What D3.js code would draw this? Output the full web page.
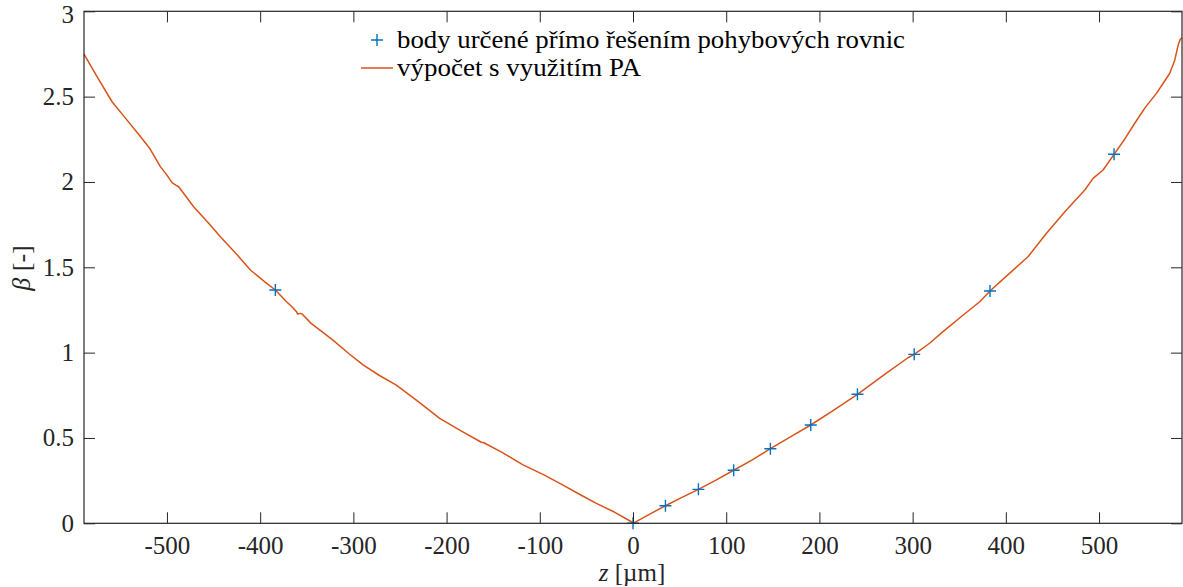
<!DOCTYPE html>
<html>
<head>
<meta charset="utf-8">
<script src="https://cdn.jsdelivr.net/npm/d3@7"></script>
<style>
html,body{margin:0;padding:0;background:#fff;}
svg{display:block;}
</style>
</head>
<body>
<svg id="chart" width="1183" height="587"></svg>
<script>
// Data
const xTicks = [-500,-400,-300,-200,-100,0,100,200,300,400,500];
const yTicks = [0,0.5,1,1.5,2,2.5,3];
const yTickLabels = ["0","0.5","1","1.5","2","2.5","3"];

// blue "+" points: directly solved equations of motion
const pointsZ    = [-383.7, 0, 34.8, 70.2, 108.0, 147.4, 190.7, 240.8, 301.7, 383.0, 516.1];
const pointsBeta = [1.367, 0.0, 0.103, 0.199, 0.311, 0.437, 0.576, 0.756, 0.990, 1.361, 2.162];

// orange curve: computation using PA
const curveZ = [-589, -575, -558.9, -545, -530, -518, -507.1, -500, -494.6, -490, -487.4, -480, -471.4,
  -455, -442.7, -425, -410.5, -395, -383.7, -372, -365.9, -361, -359.8, -357, -355.0, -345, -322.9,
  -305, -289.6, -272, -253.9, -230, -207.4, -185, -162.7, -160, -140, -118.0, -95, -75.1, -55, -39.3, -20, -1.7, 0,
  17, 34.8, 52, 70.2, 89, 108.0, 128, 147.4, 168, 190.7, 215, 240.8, 270, 295, 301.7, 318.2, 332.6, 352, 372, 383.0,
  403, 423.8, 443.6, 465, 484.7, 493.6, 504.3, 516.1, 528, 538.3, 550, 561.6, 569, 575.9, 581.3, 584.9, 587, 589];
const curveBeta = [2.749, 2.617, 2.470, 2.377, 2.277, 2.193, 2.090, 2.040, 1.996, 1.980, 1.972, 1.918, 1.855,
  1.757, 1.679, 1.575, 1.484, 1.415, 1.367, 1.300, 1.269, 1.240, 1.226, 1.230, 1.226, 1.170, 1.078,
  0.995, 0.928, 0.866, 0.810, 0.712, 0.615, 0.543, 0.475, 0.472, 0.414, 0.342, 0.282, 0.224, 0.163, 0.117, 0.066, 0.009, 0.0,
  0.051, 0.103, 0.150, 0.199, 0.253, 0.311, 0.372, 0.437, 0.503, 0.576, 0.662, 0.756, 0.872, 0.970, 0.990, 1.055, 1.123, 1.210, 1.298, 1.361,
  1.460, 1.562, 1.699, 1.836, 1.953, 2.021, 2.070, 2.162, 2.255, 2.344, 2.440, 2.519, 2.580, 2.637, 2.715, 2.803, 2.835, 2.845];

const legendLabels = ["body určené přímo řešením pohybových rovnic", "výpočet s využitím PA"];

// Layout
const L = 84, R = 1182, T = 11.3, B = 523.3;
const axisColor = "#262626";
const FONT = "Liberation Serif";
const svg = d3.select("#chart");

const x = d3.scaleLinear().domain([-589, 589]).range([L, R]);
const y = d3.scaleLinear().domain([0, 3]).range([B, T]);

// Curve
const line = d3.line().x(d => x(d[0])).y(d => y(d[1]));
const curveData = curveZ.map((z, i) => [z, curveBeta[i]]);
svg.append("path")
  .datum(curveData)
  .attr("d", line)
  .attr("fill", "none")
  .attr("stroke", "#D95319")
  .attr("stroke-width", 1.5)
  .attr("stroke-linejoin", "round");

// Points (+)
const ms = 6;
const pts = svg.append("g");
pointsZ.forEach((z, i) => {
  const cx = x(z), cy = y(pointsBeta[i]);
  pts.append("path")
    .attr("d", `M${cx - ms},${cy}H${cx + ms}M${cx},${cy - ms}V${cy + ms}`)
    .attr("stroke", "#0072BD")
    .attr("stroke-width", 1.4)
    .attr("fill", "none");
});

// Axes
const fmt = d => String(d);
const gx = svg.append("g").attr("transform", `translate(0,${B})`)
  .call(d3.axisBottom(x).tickValues(xTicks).tickFormat(fmt).tickSizeInner(-11).tickSizeOuter(0).tickPadding(13));
const gxt = svg.append("g").attr("transform", `translate(0,${T})`)
  .call(d3.axisTop(x).tickValues(xTicks).tickFormat("").tickSizeInner(-11).tickSizeOuter(0));
const gy = svg.append("g").attr("transform", `translate(${L},0)`)
  .call(d3.axisLeft(y).tickValues(yTicks).tickFormat((d, i) => yTickLabels[i]).tickSizeInner(-11).tickSizeOuter(0).tickPadding(10));
const gyr = svg.append("g").attr("transform", `translate(${R},0)`)
  .call(d3.axisRight(y).tickValues(yTicks).tickFormat("").tickSizeInner(-11).tickSizeOuter(0));

[gx, gxt, gy, gyr].forEach(g => {
  g.attr("font-family", FONT).attr("font-size", 25);
  g.select(".domain").remove();
  g.selectAll(".tick line").attr("stroke", axisColor).attr("stroke-width", 1);
  g.selectAll(".tick text").attr("fill", axisColor).attr("font-family", FONT).attr("font-size", 25);
});
// keep top "3" label inside the window
gy.selectAll(".tick text").filter(d => d === 3).attr("dy", "0.45em");

svg.append("rect")
  .attr("x", L).attr("y", T).attr("width", R - L).attr("height", B - T)
  .attr("fill", "none").attr("stroke", axisColor).attr("stroke-width", 1.2);

// Axis labels
const xl = svg.append("text").attr("x", 632).attr("y", 581).attr("text-anchor", "middle")
  .attr("font-family", FONT).attr("font-size", 25).attr("fill", axisColor);
xl.append("tspan").attr("font-style", "italic").text("z");
xl.append("tspan").text(" [µm]");

svg.append("text")
  .attr("transform", "translate(30,268) rotate(-90)")
  .attr("text-anchor", "middle").attr("font-family", FONT).attr("font-size", 26).attr("fill", axisColor)
  .call(t => { t.append("tspan").attr("font-style", "italic").text("β"); t.append("tspan").text(" [-]"); });

// Legend
const lg = svg.append("g");
lg.append("path").attr("d", "M371,40H383M377,34V46").attr("stroke", "#0072BD").attr("stroke-width", 1.4);
lg.append("line").attr("x1", 361).attr("x2", 393).attr("y1", 68).attr("y2", 68).attr("stroke", "#D95319").attr("stroke-width", 1.5);
lg.append("text").attr("x", 397).attr("y", 48).attr("font-family", FONT).attr("font-size", 26).attr("fill", "#000")
  .attr("textLength", 508).attr("lengthAdjust", "spacingAndGlyphs").text(legendLabels[0]);
lg.append("text").attr("x", 397).attr("y", 76).attr("font-family", FONT).attr("font-size", 26).attr("fill", "#000")
  .attr("textLength", 244).attr("lengthAdjust", "spacingAndGlyphs").text(legendLabels[1]);
</script>
</body>
</html>
